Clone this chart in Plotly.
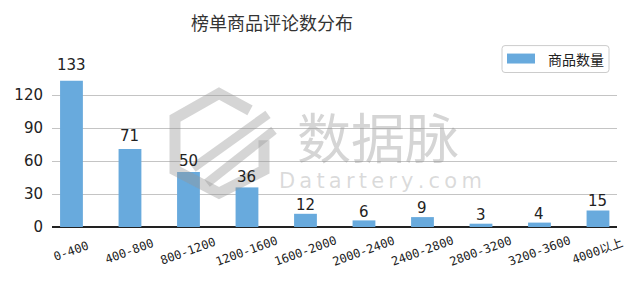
import plotly.graph_objects as go

# ---- data ----
categories = ["0-400", "400-800", "800-1200", "1200-1600", "1600-2000",
              "2000-2400", "2400-2800", "2800-3200", "3200-3600", "4000以上"]
counts = [133, 71, 50, 36, 12, 6, 9, 3, 4, 15]
series_name = "商品数量"
title_text = "榜单商品评论数分布"
y_ticks = [0, 30, 60, 90, 120]

BAR_COLOR = "#68aadd"
WM = "rgba(150,150,150,0.4)"
W, H = 640, 286
L_PX, R_PX, B_PX, T_PX = 52, 617, 227, 72.5   # plot area in pixels


def fx(px):
    return (px - L_PX) / (R_PX - L_PX)


def fy(py):
    return (B_PX - py) / (B_PX - T_PX)


fig = go.Figure()
fig.add_trace(go.Bar(x=categories, y=counts, name=series_name,
                     marker=dict(color=BAR_COLOR, line=dict(width=0)),
                     width=0.39, showlegend=False))

annotations = []
# value labels
for c, v in zip(categories, counts):
    annotations.append(dict(x=c, y=v * 1.05, xref="x", yref="y", text=str(v),
                            showarrow=False, yanchor="middle", yshift=8.5,
                            font=dict(family="DejaVu Sans", size=15, color="#222")))
# rotated category labels
for c in categories:
    annotations.append(dict(x=c, y=fy(251), xref="x", yref="paper", text=c,
                            showarrow=False, textangle=-20, xanchor="center",
                            yanchor="middle",
                            font=dict(family="DejaVu Sans Mono, Noto Sans CJK SC",
                                      size=12, color="#222")))
# legend text
annotations.append(dict(x=fx(546), y=fy(58), xref="paper", yref="paper",
                        text=series_name, showarrow=False, xanchor="left",
                        yanchor="middle",
                        font=dict(family="Noto Sans CJK SC", size=14, color="#222")))
# watermark
annotations.append(dict(x=fx(378), y=fy(135), xref="paper", yref="paper",
                        text="数据脉", showarrow=False, xanchor="center",
                        yanchor="middle",
                        font=dict(family="Noto Sans CJK SC", size=54, color=WM)))
annotations.append(dict(x=fx(380), y=fy(181), xref="paper", yref="paper",
                        text="D a t a r t e r y . c o m".replace(" ", "\u2009"),
                        showarrow=False, xanchor="center", yanchor="middle",
                        font=dict(family="DejaVu Sans", size=21,
                                  color="rgba(150,150,150,0.35)")))

shapes = []
# legend box (rounded)
x0, x1, y0, y1, r = 502, 609, 45, 72, 3
p = (f"M {fx(x0+r)},{fy(y0)} L {fx(x1-r)},{fy(y0)} Q {fx(x1)},{fy(y0)} {fx(x1)},{fy(y0+r)} "
     f"L {fx(x1)},{fy(y1-r)} Q {fx(x1)},{fy(y1)} {fx(x1-r)},{fy(y1)} "
     f"L {fx(x0+r)},{fy(y1)} Q {fx(x0)},{fy(y1)} {fx(x0)},{fy(y1-r)} "
     f"L {fx(x0)},{fy(y0+r)} Q {fx(x0)},{fy(y0)} {fx(x0+r)},{fy(y0)} Z")
shapes.append(dict(type="path", xref="paper", yref="paper", path=p,
                   line=dict(color="#cccccc", width=1), fillcolor="white", layer="above"))
shapes.append(dict(type="rect", xref="paper", yref="paper",
                   x0=fx(507), x1=fx(535), y0=fy(63), y1=fy(53),
                   line=dict(width=0), fillcolor=BAR_COLOR, layer="above"))
# watermark hexagon logo (approximate, open at upper right)
hex_pts = [(250, 110), (219, 93), (175, 118), (175, 170), (219, 193), (264, 170), (264, 140)]
hp = "M " + " L ".join(f"{fx(a)},{fy(b)}" for a, b in hex_pts)
shapes.append(dict(type="path", xref="paper", yref="paper", path=hp,
                   line=dict(color=WM, width=11), layer="above"))
for (a0, b0, a1, b1) in [(193, 168, 268, 114), (207, 183, 274, 130)]:
    shapes.append(dict(type="line", xref="paper", yref="paper",
                       x0=fx(a0), y0=fy(b0), x1=fx(a1), y1=fy(b1),
                       line=dict(color=WM, width=9), layer="above"))

fig.update_layout(
    width=W, height=H,
    margin=dict(l=L_PX, r=W - R_PX, t=T_PX, b=H - B_PX, pad=0),
    paper_bgcolor="white", plot_bgcolor="white",
    title=dict(text=title_text, x=272 / W, xref="container", xanchor="center",
               y=1 - 24 / H, yref="container", yanchor="middle",
               font=dict(family="Noto Sans CJK SC", size=18, color="#333")),
    xaxis=dict(range=[-0.333, 9.325], showticklabels=False, showgrid=False,
               ticks="", showline=False, zeroline=False, fixedrange=True),
    yaxis=dict(range=[0, 140], tickvals=y_ticks, ticktext=[str(t) for t in y_ticks],
               tickfont=dict(family="DejaVu Sans", size=15, color="#222"),
               showgrid=True, gridcolor="#c4c4c4", gridwidth=1,
               zeroline=True, zerolinecolor="#222", zerolinewidth=1.5,
               showline=False, ticks="", ticklabelstandoff=8),
    annotations=annotations, shapes=shapes, bargap=0.6,
)

fig.write_html("out.html")
